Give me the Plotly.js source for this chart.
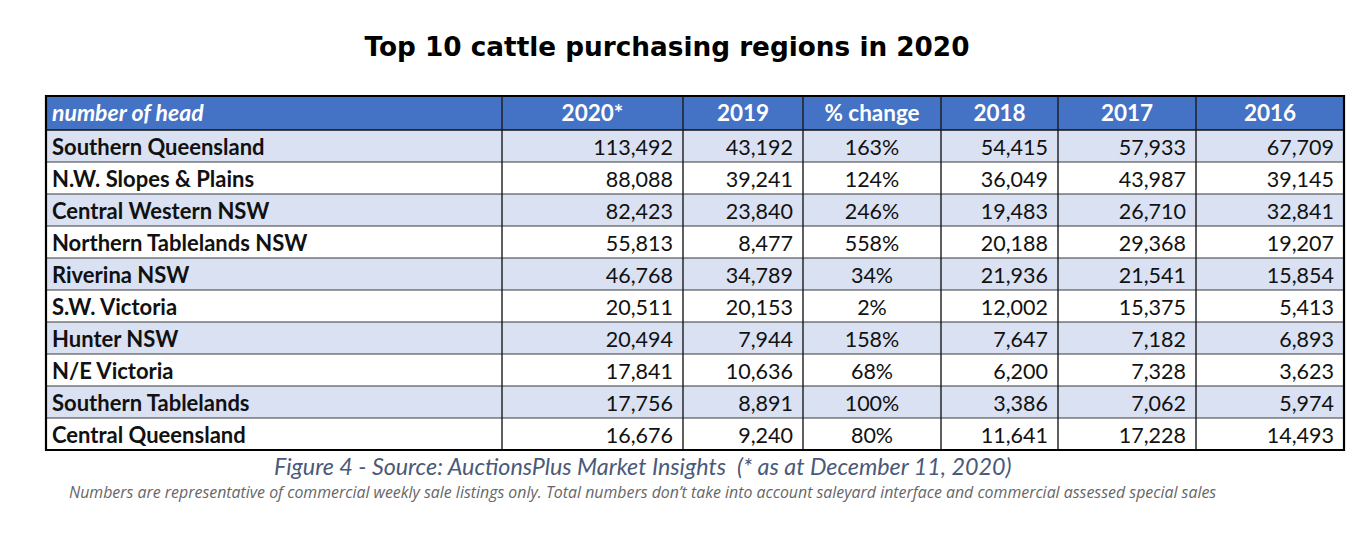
<!DOCTYPE html>
<html>
<head>
<meta charset="utf-8">
<script src="https://cdn.plot.ly/plotly-3.0.1.min.js"></script>
<style>html,body{margin:0;padding:0;background:#fff;}#chart{width:1367px;height:538px;}</style>
</head>
<body>
<div id="chart"></div>
<script>
// ---- data ----
const headers = ["number of head", "2020*", "2019", "% change", "2018", "2017", "2016"];
const regions = ["Southern Queensland", "N.W. Slopes & Plains", "Central Western NSW", "Northern Tablelands NSW", "Riverina NSW", "S.W. Victoria", "Hunter NSW", "N/E Victoria", "Southern Tablelands", "Central Queensland"];
const v2020 = [113492, 88088, 82423, 55813, 46768, 20511, 20494, 17841, 17756, 16676];
const v2019 = [43192, 39241, 23840, 8477, 34789, 20153, 7944, 10636, 8891, 9240];
const pctChange = [163, 124, 246, 558, 34, 2, 158, 68, 100, 80];
const v2018 = [54415, 36049, 19483, 20188, 21936, 12002, 7647, 6200, 3386, 11641];
const v2017 = [57933, 43987, 26710, 29368, 21541, 15375, 7182, 7328, 7062, 17228];
const v2016 = [67709, 39145, 32841, 19207, 15854, 5413, 6893, 3623, 5974, 14493];

// ---- layout geometry (pixels) ----
const W = 1367, H = 538;
const colEdges = [46, 502, 683, 803, 941, 1058, 1196, 1344];
const headTop = 96, headBot = 130, rowH = 32;
const tableBot = headBot + rowH * regions.length;
const rowY = regions.map((_, i) => headBot + rowH * i + rowH / 2 + 3.5);
const headY = (headTop + headBot) / 2 + 2;
const fmt = v => v.toLocaleString("en-US");

const cellFont = {family: "Lato, sans-serif", size: 21.5, color: "#111111"};
const nameFont = {family: "Lato, sans-serif", size: 22, color: "#111111"};

const traces = [];
// header texts
traces.push({
  type: "scatter", mode: "text", hoverinfo: "skip", cliponaxis: false,
  x: [colEdges[0] + 6], y: [headY],
  text: ["<b><i>" + headers[0] + "</i></b>"], textposition: "middle right",
  textfont: {family: "Lato, sans-serif", size: 23, color: "#FFFFFF"}
});
traces.push({
  type: "scatter", mode: "text", hoverinfo: "skip", cliponaxis: false,
  x: headers.slice(1).map((_, j) => (colEdges[j + 1] + colEdges[j + 2]) / 2),
  y: headers.slice(1).map(() => headY),
  text: headers.slice(1).map(h => "<b>" + h + "</b>"), textposition: "middle center",
  textfont: {family: "Lato, sans-serif", size: 22.5, color: "#FFFFFF"}
});
// region names
traces.push({
  type: "scatter", mode: "text", hoverinfo: "skip", cliponaxis: false,
  x: regions.map(() => colEdges[0] + 6), y: rowY,
  text: regions.map(r => "<b>" + r + "</b>"), textposition: "middle right",
  textfont: nameFont
});
// numeric columns
const numCols = [v2020, v2019, null, v2018, v2017, v2016];
numCols.forEach((col, k) => {
  const j = k + 1;
  if (col === null) {
    traces.push({
      type: "scatter", mode: "text", hoverinfo: "skip", cliponaxis: false,
      x: pctChange.map(() => (colEdges[j] + colEdges[j + 1]) / 2), y: rowY,
      text: pctChange.map(p => p + "%"), textposition: "middle center",
      textfont: cellFont
    });
  } else {
    traces.push({
      type: "scatter", mode: "text", hoverinfo: "skip", cliponaxis: false,
      x: col.map(() => colEdges[j + 1] - 10), y: rowY,
      text: col.map(fmt), textposition: "middle left",
      textfont: cellFont
    });
  }
});

// ---- shapes: fills and grid ----
const shapes = [];
shapes.push({type: "rect", xref: "x", yref: "y", layer: "below", x0: colEdges[0], x1: colEdges[7], y0: headTop, y1: headBot, fillcolor: "#4472C4", line: {width: 0}});
regions.forEach((_, i) => {
  shapes.push({type: "rect", xref: "x", yref: "y", layer: "below",
    x0: colEdges[0], x1: colEdges[7], y0: headBot + rowH * i, y1: headBot + rowH * (i + 1),
    fillcolor: i % 2 === 0 ? "#D9E1F2" : "#FFFFFF", line: {width: 0}});
});
for (let i = 1; i < regions.length; i++) {
  const y = headBot + rowH * i;
  shapes.push({type: "line", xref: "x", yref: "y", x0: colEdges[0], x1: colEdges[7], y0: y, y1: y, line: {color: "#3a3a3a", width: 1.2}});
}
shapes.push({type: "line", xref: "x", yref: "y", x0: colEdges[0], x1: colEdges[7], y0: headBot, y1: headBot, line: {color: "#111111", width: 1.6}});
for (let j = 1; j < colEdges.length - 1; j++) {
  shapes.push({type: "line", xref: "x", yref: "y", x0: colEdges[j], x1: colEdges[j], y0: headTop, y1: tableBot, line: {color: "#1a1a1a", width: 1.4}});
}
shapes.push({type: "rect", xref: "x", yref: "y", x0: colEdges[0], x1: colEdges[7], y0: headTop, y1: tableBot, line: {color: "#000000", width: 2.2}});

const layout = {
  width: W, height: H,
  margin: {l: 0, r: 0, t: 0, b: 0},
  paper_bgcolor: "#FFFFFF", plot_bgcolor: "#FFFFFF",
  showlegend: false,
  xaxis: {range: [0, W], visible: false, fixedrange: true},
  yaxis: {range: [H, 0], visible: false, fixedrange: true},
  shapes: shapes,
  title: {
    text: "<b>Top 10 cattle purchasing regions in 2020</b>",
    font: {family: "DejaVu Sans, sans-serif", size: 26.3, color: "#000000"},
    x: 667 / W, xanchor: "center",
    y: 1 - 47 / H, yanchor: "middle"
  },
  annotations: [
    {
      text: "<i>Figure 4 - Source: AuctionsPlus Market Insights  (* as at December 11, 2020)</i>",
      xref: "paper", yref: "paper", x: 642 / W, y: 1 - 466 / H,
      xanchor: "center", yanchor: "middle", showarrow: false,
      font: {family: "Lato, sans-serif", size: 23.3, color: "#4A5A78"}
    },
    {
      text: "<i>Numbers are representative of commercial weekly sale listings only. Total numbers don\u2019t take into account saleyard interface and commercial assessed special sales</i>",
      xref: "paper", yref: "paper", x: 642.5 / W, y: 1 - 492 / H,
      xanchor: "center", yanchor: "middle", showarrow: false,
      font: {family: "Open Sans, sans-serif", size: 15.9, color: "#666666"}
    }
  ]
};

Plotly.newPlot("chart", traces, layout, {displayModeBar: false, staticPlot: true});
</script>
</body>
</html>
